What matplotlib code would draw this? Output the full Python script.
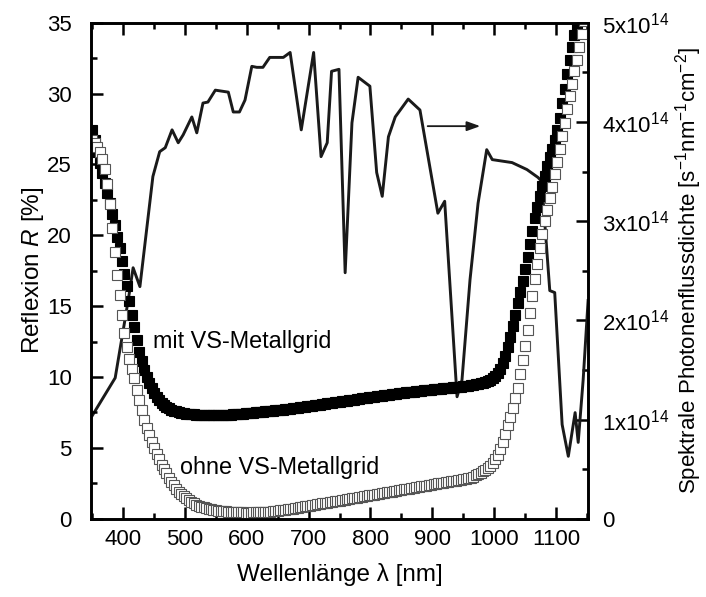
import numpy as np
import matplotlib
matplotlib.use("Agg")
import matplotlib.pyplot as plt
from matplotlib.ticker import MultipleLocator, FuncFormatter

plt.rcParams['font.family'] = ['Liberation Sans', 'DejaVu Sans']
plt.rcParams['font.size'] = 16
plt.rcParams['mathtext.fontset'] = 'custom'
plt.rcParams['mathtext.rm'] = 'Liberation Sans'
plt.rcParams['mathtext.it'] = 'Liberation Sans:italic'

# reflection spectra, 4 nm sampling from 350 to 1150 nm
wavelength = np.arange(350, 1151, 4)

refl_mit = [
    27.4, 26.7, 25.9, 25.1, 24.4, 23.7, 23.0, 22.3, 21.5, 20.7,
    19.9, 19.1, 18.2, 17.3, 16.4, 15.4, 14.4, 13.5, 12.6, 11.8,
    11.1, 10.5, 10.0, 9.6, 9.2, 8.9, 8.6, 8.4, 8.2, 8.05,
    7.9, 7.8, 7.7, 7.63, 7.57, 7.52, 7.48, 7.45, 7.42, 7.4,
    7.38, 7.36, 7.35, 7.34, 7.33, 7.32, 7.31, 7.3, 7.3, 7.3,
    7.3, 7.3, 7.31, 7.32, 7.33, 7.34, 7.35, 7.36, 7.37, 7.38,
    7.4, 7.41, 7.43, 7.45, 7.47, 7.49, 7.51, 7.52, 7.54, 7.56,
    7.58, 7.59, 7.61, 7.62, 7.64, 7.65, 7.67, 7.7, 7.72, 7.74,
    7.77, 7.79, 7.82, 7.84, 7.87, 7.89, 7.92, 7.94, 7.96, 7.99,
    8.01, 8.04, 8.06, 8.09, 8.11, 8.14, 8.16, 8.19, 8.21, 8.23,
    8.26, 8.28, 8.31, 8.33, 8.36, 8.38, 8.41, 8.43, 8.46, 8.49,
    8.51, 8.54, 8.56, 8.59, 8.61, 8.64, 8.66, 8.69, 8.71, 8.73,
    8.76, 8.78, 8.81, 8.83, 8.85, 8.88, 8.9, 8.92, 8.94, 8.96,
    8.98, 9.0, 9.02, 9.04, 9.06, 9.08, 9.1, 9.11, 9.13, 9.15,
    9.17, 9.19, 9.2, 9.22, 9.24, 9.26, 9.28, 9.29, 9.31, 9.33,
    9.35, 9.37, 9.4, 9.42, 9.45, 9.48, 9.51, 9.55, 9.6, 9.65,
    9.72, 9.8, 9.9, 10.05, 10.3, 10.6, 11.0, 11.5, 12.1, 12.8,
    13.6, 14.4, 15.2, 16.0, 16.8, 17.6, 18.5, 19.4, 20.3, 21.2,
    22.0, 22.8, 23.5, 24.2, 24.9, 25.5, 26.1, 26.7, 27.4, 28.3,
    29.3, 30.3, 31.4, 32.4, 33.3, 34.1, 34.8, 35.5, 36.2, 36.9,
    37.6,
]

refl_ohne = [
    26.7, 26.5, 26.2, 25.9, 25.4, 24.7, 23.6, 22.2, 20.5, 18.8,
    17.2, 15.8, 14.4, 13.1, 12.1, 11.3, 10.6, 9.9, 9.1, 8.4,
    7.7, 7.0, 6.4, 5.9, 5.4, 5.0, 4.6, 4.2, 3.8, 3.5,
    3.2, 2.9, 2.6, 2.35, 2.1, 1.9, 1.75, 1.6, 1.45, 1.3,
    1.2, 1.1, 1.0, 0.92, 0.86, 0.8, 0.75, 0.7, 0.66, 0.63,
    0.6, 0.58, 0.56, 0.54, 0.52, 0.5, 0.49, 0.48, 0.47, 0.46,
    0.45, 0.45, 0.44, 0.44, 0.44, 0.45, 0.45, 0.46, 0.47, 0.48,
    0.49, 0.5, 0.51, 0.53, 0.55, 0.57, 0.59, 0.61, 0.63, 0.66,
    0.69, 0.72, 0.75, 0.78, 0.81, 0.84, 0.87, 0.9, 0.93, 0.96,
    0.99, 1.02, 1.05, 1.08, 1.11, 1.14, 1.17, 1.2, 1.23, 1.26,
    1.29, 1.32, 1.35, 1.38, 1.41, 1.44, 1.47, 1.5, 1.53, 1.56,
    1.59, 1.62, 1.65, 1.68, 1.71, 1.74, 1.77, 1.8, 1.83, 1.86,
    1.89, 1.92, 1.95, 1.98, 2.01, 2.04, 2.07, 2.1, 2.13, 2.16,
    2.19, 2.22, 2.25, 2.28, 2.31, 2.34, 2.37, 2.4, 2.43, 2.46,
    2.49, 2.52, 2.55, 2.58, 2.61, 2.64, 2.67, 2.7, 2.73, 2.76,
    2.79, 2.82, 2.85, 2.88, 2.97, 3.06, 3.15, 3.25, 3.35, 3.45,
    3.6, 3.75, 3.95, 4.2, 4.5, 4.9, 5.4, 6.0, 6.6, 7.2,
    7.8, 8.5, 9.2, 10.2, 11.2, 12.2, 13.3, 14.5, 15.7, 16.9,
    18.0, 19.1, 20.1, 21.0, 21.8, 22.6, 23.4, 24.3, 25.2, 26.1,
    27.0, 27.9, 28.9, 29.8, 30.7, 31.6, 32.4, 33.3, 34.2, 35.1,
    36.0,
]

# solar photon flux (AM1.5), units of 1e14 s^-1 nm^-1 cm^-2
flux_wl = [348, 387, 404, 410, 416, 427, 448, 459, 468, 479,
           489, 497, 511, 519, 529, 537, 549, 570, 578, 588,
           597, 608, 616, 626, 637, 659, 670, 688, 708, 720,
           730, 737, 749, 759, 770, 780, 799, 810, 819, 829,
           840, 861, 880, 909, 920, 940, 948, 961, 974, 988,
           997, 1029, 1053, 1071, 1077, 1090, 1098, 1110, 1120, 1131,
           1136, 1144, 1152]
flux = [1.02, 1.42, 2.05, 2.28, 2.53, 2.34, 3.45, 3.70, 3.74, 3.92,
        3.79, 3.87, 4.05, 3.89, 4.19, 4.20, 4.32, 4.30, 4.10, 4.10,
        4.22, 4.56, 4.55, 4.55, 4.65, 4.65, 4.70, 3.92, 4.70, 3.65,
        3.79, 4.51, 4.53, 2.48, 3.99, 4.45, 4.36, 3.49, 3.25, 3.85,
        4.05, 4.23, 4.12, 3.08, 3.20, 1.23, 1.40, 2.41, 3.18, 3.72,
        3.62, 3.59, 3.52, 3.44, 3.40, 2.30, 2.28, 0.95, 0.63, 1.07,
        0.77, 1.40, 2.20]

fig = plt.figure(figsize=(7.06, 5.97), dpi=100)
ax = fig.add_axes([0.129, 0.131, 0.704, 0.831])
ax2 = ax.twinx()

# photon flux on the right axis, drawn underneath the markers
ax2.plot(flux_wl, np.array(flux) * 1e14, color='#1a1a1a', lw=2.1)
ax2.set_ylim(0, 5e14)
ax2.yaxis.set_major_locator(MultipleLocator(1e14))
ax2.yaxis.set_minor_locator(MultipleLocator(0.5e14))


def flux_label(v, pos):
    n = int(round(v / 1e14))
    return '0' if n == 0 else f'{n}x10$^{{14}}$'


ax2.yaxis.set_major_formatter(FuncFormatter(flux_label))
ax2.set_ylabel('Spektrale Photonenflussdichte [s$^{-1}$nm$^{-1}$cm$^{-2}$]')
ax2.yaxis.set_label_coords(1.172, 0.5)

ax.set_zorder(ax2.get_zorder() + 1)
ax.patch.set_visible(False)

ax.plot(wavelength, refl_mit, 's', ms=7.4, mfc='black', mec='black', mew=0.8)
ax.plot(wavelength, refl_ohne, 's', ms=7.4, mfc='white', mec='#555555', mew=0.8)

ax.set_xlim(348, 1152)
ax.set_ylim(0, 35)
ax.xaxis.set_major_locator(MultipleLocator(100))
ax.xaxis.set_minor_locator(MultipleLocator(50))
ax.yaxis.set_major_locator(MultipleLocator(5))
ax.yaxis.set_minor_locator(MultipleLocator(2.5))

ax.set_xlabel('Wellenlänge λ [nm]', fontsize=17.5, labelpad=10)
ax.set_ylabel('Reflexion $R$ [%]', fontsize=17.5)
ax.yaxis.set_label_coords(-0.09, 0.5)

ax.text(448, 12.5, 'mit VS-Metallgrid', va='center', ha='left', fontsize=16.8)
ax.text(492, 3.6, 'ohne VS-Metallgrid', va='center', ha='left', fontsize=16.8)
ax.annotate('', xy=(982, 27.7), xytext=(888, 27.7),
            arrowprops=dict(arrowstyle='-|>,head_length=0.5,head_width=0.18',
                            color='#1a1a1a', lw=1.3))

for a in (ax, ax2):
    for s in a.spines.values():
        s.set_linewidth(1.9)
ax.tick_params(which='both', direction='in', width=1.8, top=True, labelsize=16)
ax.tick_params(which='major', length=8.5)
ax.tick_params(which='minor', length=4.3)
ax.tick_params(axis='x', pad=7)
ax.tick_params(axis='y', pad=14)
ax2.tick_params(which='both', direction='in', width=1.8, labelsize=16, pad=10)
ax2.tick_params(which='major', length=8.5)
ax2.tick_params(which='minor', length=4.3)

fig.savefig('out.png', dpi=100)
